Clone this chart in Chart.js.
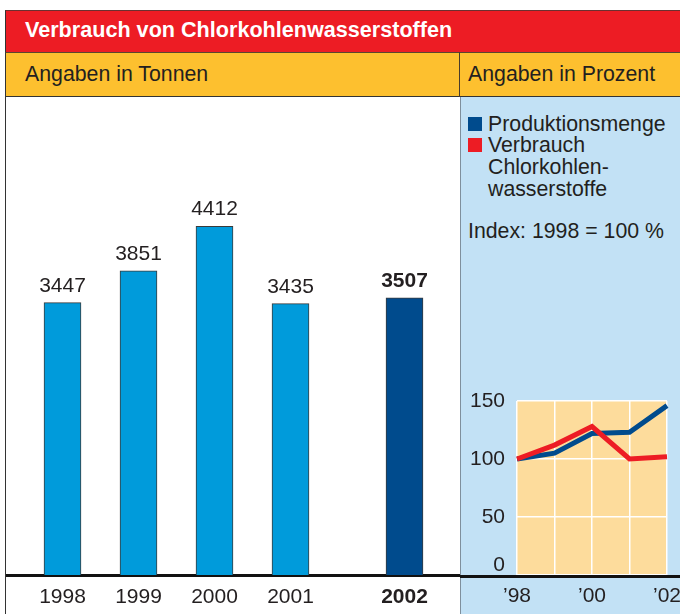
<!DOCTYPE html>
<html>
<head>
<meta charset="utf-8">
<script src="https://cdn.jsdelivr.net/npm/chart.js@4.4.0/dist/chart.umd.min.js"></script>
<style>
    body { margin: 0; background: #fff; font-family: "Liberation Sans", Arial, sans-serif; color: #231f20; }
    #wrap { position: relative; width: 680px; height: 614px; overflow: hidden; }
    .box { position: absolute; box-sizing: border-box; }
    #red { left: 5px; top: 10px; width: 675px; height: 42px; background: #ed1c24; border-top: 1px solid #6b3030; border-left: 1px solid #333; }
    #yellow { left: 5px; top: 52px; width: 675px; height: 45px; background: #fdc02f; border-top: 1px solid #5a4630; border-bottom: 1px solid #333; border-left: 1px solid #333; }
    #ydiv { left: 459px; top: 52px; width: 1px; height: 45px; background: #4a3c2a; }
    #leftPanel { left: 5px; top: 97px; width: 455px; height: 517px; background: #fff; border-left: 1px solid #333; }
    #rightPanel { left: 460px; top: 97px; width: 220px; height: 517px; background: #c2e1f5; border-left: 1px solid #7f8f9c; }
    .txt { position: absolute; white-space: nowrap; font-size: 21.3px; line-height: 22px; }
    #title { left: 25px; top: 19px; color: #fff; font-weight: bold; font-size: 21.6px; }
    .sq { position: absolute; width: 14px; height: 14px; }
    canvas { position: absolute; }
</style>
</head>
<body>
<div id="wrap">
    <div class="box" id="red"></div>
    <div class="box" id="yellow"></div>
    <div class="box" id="ydiv"></div>
    <div class="box" id="leftPanel"></div>
    <div class="box" id="rightPanel"></div>

    <div class="txt" id="title">Verbrauch von Chlorkohlenwasserstoffen</div>
    <div class="txt" style="left:25px; top:63px;">Angaben in Tonnen</div>
    <div class="txt" style="left:468px; top:63px;">Angaben in Prozent</div>

    <div class="sq" style="left:468px; top:117px; background:#004b8d;"></div>
    <div class="sq" style="left:468px; top:138px; background:#ed1c24;"></div>
    <div class="txt" style="left:488px; top:113px;">Produktionsmenge</div>
    <div class="txt" style="left:488px; top:134px;">Verbrauch</div>
    <div class="txt" style="left:488px; top:156px;">Chlorkohlen-</div>
    <div class="txt" style="left:488px; top:178px;">wasserstoffe</div>
    <div class="txt" style="left:468px; top:220px;">Index: 1998 = 100 %</div>

    <canvas id="barChart" style="left:6px; top:97px;" width="454" height="517"></canvas>
    <canvas id="lineChart" style="left:460px; top:97px;" width="220" height="517"></canvas>
</div>

<script>
// Daten: Verbrauch in Tonnen
const jahre = ["1998", "1999", "2000", "2001", "2002"];
const tonnen = [3447, 3851, 4412, 3435, 3507];

// Daten: Index 1998 = 100 %
const indexJahre = ["1998", "1999", "2000", "2001", "2002"];
const indexLabels = ["\u201998", "", "\u201900", "", "\u201902"];
const produktion = [100, 105, 122, 123, 146];
const verbrauch = [100, 112, 128, 100, 102];
const yTicks = [0, 50, 100, 150];

const FONT = "'Liberation Sans', Arial, sans-serif";
const TEXT = "#231f20";
Chart.defaults.font.family = FONT;
Chart.defaults.animation = false;

// letztes Jahr hervorgehoben, mit Abstand
const slot = (i) => (i === jahre.length - 1 ? i + 0.5 : i);

const barValueLabels = {
    id: "barValueLabels",
    afterDatasetsDraw(chart) {
        const c = chart.ctx;
        const meta = chart.getDatasetMeta(0);
        c.save();
        c.fillStyle = TEXT;
        c.textAlign = "center";
        c.textBaseline = "alphabetic";
        meta.data.forEach((bar, i) => {
            const bold = i === jahre.length - 1;
            c.font = (bold ? "bold " : "") + "21px " + FONT;
            c.fillText(String(tonnen[i]), bar.x, bar.y - 11);
        });
        c.restore();
    },
};

new Chart(document.getElementById("barChart"), {
    type: "bar",
    data: {
        datasets: [{
            data: tonnen.map((v, i) => ({ x: slot(i), y: v })),
            backgroundColor: tonnen.map((v, i) => (i === jahre.length - 1 ? "#004b8d" : "#009bdb")),
            borderColor: "#3a3a3a",
            borderWidth: 1,
            borderSkipped: "bottom",
            barThickness: 37,
        }],
    },
    options: {
        responsive: false,
        layout: { padding: 0 },
        plugins: { legend: { display: false }, tooltip: { enabled: false } },
        scales: {
            x: {
                type: "linear",
                offset: false,
                min: -0.7434,
                max: 5.2303,
                grid: { display: false, drawTicks: false, offset: false },
                border: { display: true, color: "#111", width: 3 },
                afterBuildTicks: (s) => { s.ticks = jahre.map((j, i) => ({ value: slot(i) })); },
                afterFit: (s) => { s.height = 39; },
                ticks: {
                    padding: 10,
                    color: TEXT,
                    autoSkip: false,
                    maxRotation: 0,
                    callback: (v, i) => jahre[i],
                    font: (ctx) => ({ family: FONT, size: 21, weight: ctx.index === jahre.length - 1 ? "bold" : "normal" }),
                },
            },
            y: { display: false, min: 0, max: 6050 },
        },
    },
    plugins: [barValueLabels],
});

const indexPanel = {
    id: "indexPanel",
    beforeDraw(chart) {
        const { ctx, chartArea: a } = chart;
        ctx.save();
        ctx.fillStyle = "#fddc9c";
        ctx.fillRect(a.left, a.top, a.right - a.left, a.bottom - a.top);
        ctx.restore();
    },
    afterDraw(chart) {
        const { ctx, chartArea: a } = chart;
        const ys = chart.scales.y;
        const xs = chart.scales.x;
        ctx.save();
        // Achsenlinie über die ganze Breite
        ctx.fillStyle = "#111";
        ctx.fillRect(0, a.bottom, chart.width, 3);
        ctx.fillStyle = TEXT;
        ctx.font = "21px " + FONT;
        ctx.textAlign = "right";
        ctx.textBaseline = "middle";
        yTicks.forEach((v) => {
            const y = ys.getPixelForValue(v) - (v === 0 ? 10 : 0);
            ctx.fillText(String(v), a.left - 12, y);
        });
        ctx.textAlign = "center";
        indexLabels.forEach((l, i) => {
            if (l) ctx.fillText(l, xs.getPixelForValue(i), a.bottom + 21);
        });
        ctx.restore();
    },
};

new Chart(document.getElementById("lineChart"), {
    type: "line",
    data: {
        labels: indexJahre,
        datasets: [
            { data: verbrauch, borderColor: "#ed1c24", borderWidth: 5, pointRadius: 0, tension: 0, fill: false },
            { data: produktion, borderColor: "#004b8d", borderWidth: 5, pointRadius: 0, tension: 0, fill: false },
        ],
    },
    options: {
        responsive: false,
        layout: { padding: { top: 304, right: 13, left: 0, bottom: 0 } },
        plugins: { legend: { display: false }, tooltip: { enabled: false } },
        scales: {
            x: {
                offset: false,
                grid: { color: "#ffffff", lineWidth: 1.5, drawTicks: false },
                border: { display: false },
                ticks: { display: false },
                afterFit: (s) => { s.height = 39; },
            },
            y: {
                min: 0,
                max: 150,
                afterBuildTicks: (s) => { s.ticks = yTicks.map((v) => ({ value: v })); },
                grid: { color: "#ffffff", lineWidth: 1.5, drawTicks: false },
                border: { display: false },
                ticks: { display: false },
                afterFit: (s) => { s.width = 57; },
            },
        },
    },
    plugins: [indexPanel],
});
</script>
</body>
</html>
